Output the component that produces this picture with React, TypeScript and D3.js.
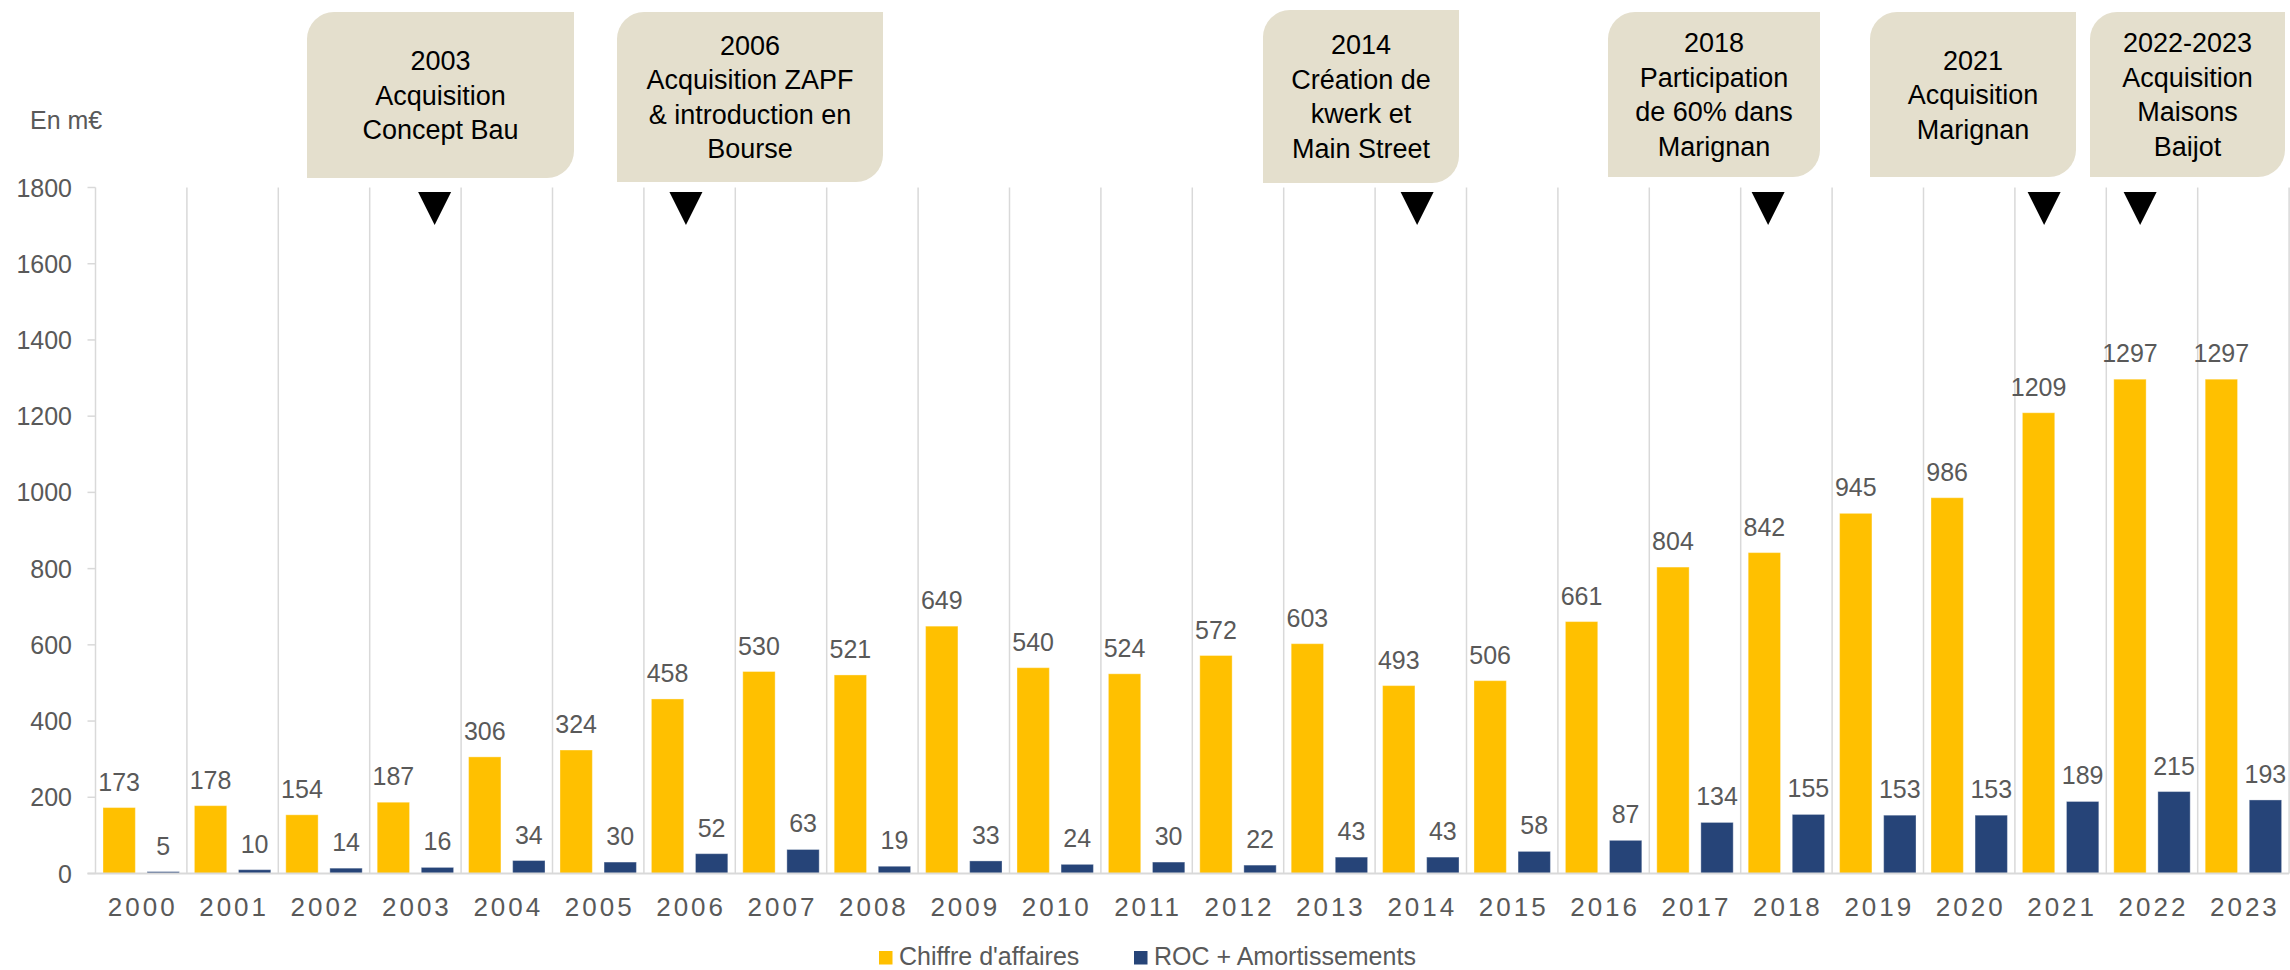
import * as d3 from "d3";

// Données (en m€)
const years = [
  "2000", "2001", "2002", "2003", "2004", "2005", "2006", "2007", "2008", "2009", "2010", "2011",
  "2012", "2013", "2014", "2015", "2016", "2017", "2018", "2019", "2020", "2021", "2022", "2023",
];
const chiffreAffaires = [
  173, 178, 154, 187, 306, 324, 458, 530, 521, 649, 540, 524,
  572, 603, 493, 506, 661, 804, 842, 945, 986, 1209, 1297, 1297,
];
const rocAmortissements = [
  5, 10, 14, 16, 34, 30, 52, 63, 19, 33, 24, 30,
  22, 43, 43, 58, 87, 134, 155, 153, 153, 189, 215, 193,
];
const yTicks = [0, 200, 400, 600, 800, 1000, 1200, 1400, 1600, 1800];
const seriesNames = ["Chiffre d'affaires", "ROC + Amortissements"];

// Événements annotés
const eventYears = ["2003", "2006", "2014", "2018", "2021", "2022"];
const eventTexts = [
  ["2003", "Acquisition", "Concept Bau"],
  ["2006", "Acquisition ZAPF", "& introduction en", "Bourse"],
  ["2014", "Création de", "kwerk et", "Main Street"],
  ["2018", "Participation", "de 60% dans", "Marignan"],
  ["2021", "Acquisition", "Marignan"],
  ["2022-2023", "Acquisition", "Maisons", "Baijot"],
];

// mise en page des bulles (placées à la main dans l'original)
const boxLayout = [
  { x0: 307, x1: 574, y0: 12, y1: 178, arrow: 0.71 },
  { x0: 617, x1: 883, y0: 12, y1: 182, arrow: 0.46 },
  { x0: 1263, x1: 1459, y0: 10, y1: 183, arrow: 0.46 },
  { x0: 1608, x1: 1820, y0: 12, y1: 177, arrow: 0.3 },
  { x0: 1870, x1: 2076, y0: 12, y1: 177, arrow: 0.32 },
  { x0: 2090, x1: 2285, y0: 12, y1: 177, arrow: 0.37 },
];

const W = 2290;
const H = 970;
const FONT = "'Liberation Sans', Arial, sans-serif";
const GREY = "#595959";
const GRID = "#D9D9D9";
const COLORS = ["#FFC000", "#264478"];
const BOX_FILL = "#E4DFCD";

function boxPath(x0: number, x1: number, y0: number, y1: number, r: number) {
  const p = d3.path();
  p.moveTo(x0 + r, y0);
  p.lineTo(x1, y0);
  p.lineTo(x1, y1 - r);
  p.arcTo(x1, y1, x1 - r, y1, r);
  p.lineTo(x0, y1);
  p.lineTo(x0, y0 + r);
  p.arcTo(x0, y0, x0 + r, y0, r);
  p.closePath();
  return p.toString();
}

export default function App() {
  const x = d3.scaleBand<string>().domain(years).range([95.5, 95.5 + 24 * 91.4]);
  const inner = d3
    .scaleBand<number>()
    .domain([0, 1])
    .range([0, x.bandwidth()])
    .paddingInner(0.266)
    .paddingOuter(0.17);
  const y = d3.scaleLinear().domain([0, 1800]).range([873.5, 187.5]);

  const series = [chiffreAffaires, rocAmortissements];
  const left = x.range()[0];
  const right = x.range()[1];

  return (
    <svg
      width={W}
      height={H}
      style={{ position: "absolute", left: 0, top: 0, background: "#fff" }}
      fontFamily={FONT}
    >
      {/* grille verticale */}
      {years.map((yr) => (
        <line
          key={"g" + yr}
          x1={(x(yr) as number) + x.bandwidth()}
          x2={(x(yr) as number) + x.bandwidth()}
          y1={y(1800)}
          y2={y(0)}
          stroke={GRID}
          strokeWidth={1.5}
        />
      ))}
      {/* axe Y */}
      <line x1={left} x2={left} y1={y(1800)} y2={y(0)} stroke={GRID} strokeWidth={1.5} />
      {yTicks.map((t) => (
        <g key={"t" + t}>
          <line x1={left - 8} x2={left} y1={y(t)} y2={y(t)} stroke={GRID} strokeWidth={1.5} />
          <text x={72} y={y(t) + 9} textAnchor="end" fontSize={25} fill={GREY}>
            {t}
          </text>
        </g>
      ))}
      <text x={30} y={129} fontSize={25} fill={GREY}>
        En m€
      </text>

      {/* barres */}
      {series.map((vals, si) =>
        vals.map((v, i) => {
          const bx = (x(years[i]) as number) + (inner(si) as number);
          return (
            <g key={`b${si}-${i}`}>
              <rect
                x={bx}
                y={y(v)}
                width={inner.bandwidth()}
                height={y(0) - y(v)}
                fill={COLORS[si]}
                stroke="#ffffff"
                strokeOpacity={0.35}
                strokeWidth={1}
              />
              <text
                x={bx + inner.bandwidth() / 2}
                y={y(v) - 17}
                textAnchor="middle"
                fontSize={25}
                fill={GREY}
              >
                {v}
              </text>
            </g>
          );
        })
      )}

      {/* axe X */}
      <line x1={left - 8} x2={right} y1={y(0)} y2={y(0)} stroke={GRID} strokeWidth={2} />
      {years.map((yr) => (
        <text
          key={"x" + yr}
          x={(x(yr) as number) + x.bandwidth() / 2 + 1.5}
          y={916}
          textAnchor="middle"
          fontSize={26}
          letterSpacing={3}
          fill={GREY}
        >
          {yr}
        </text>
      ))}

      {/* annotations */}
      {eventYears.map((ev, k) => {
        const b = boxLayout[k];
        const lines = eventTexts[k];
        const cy = (b.y0 + b.y1) / 2;
        const lh = 34.5;
        const ax = (x(ev) as number) + b.arrow * x.bandwidth();
        return (
          <g key={"a" + ev}>
            <path d={boxPath(b.x0, b.x1, b.y0, b.y1, 27)} fill={BOX_FILL} />
            {lines.map((ln, j) => (
              <text
                key={j}
                x={(b.x0 + b.x1) / 2}
                y={cy + (j - (lines.length - 1) / 2) * lh + 9.5}
                textAnchor="middle"
                fontSize={27}
                fill="#000"
              >
                {ln}
              </text>
            ))}
            <path
              d={`M${ax - 16.5},192 L${ax + 16.5},192 L${ax},225 Z`}
              fill="#000"
            />
          </g>
        );
      })}

      {/* légende */}
      {seriesNames.map((name, i) => {
        const lx = i === 0 ? 879 : 1134;
        return (
          <g key={"l" + i}>
            <rect x={lx} y={951} width={13.5} height={13.5} fill={COLORS[i]} />
            <text x={lx + 20} y={965} fontSize={25} fill={GREY}>
              {name}
            </text>
          </g>
        );
      })}
    </svg>
  );
}
